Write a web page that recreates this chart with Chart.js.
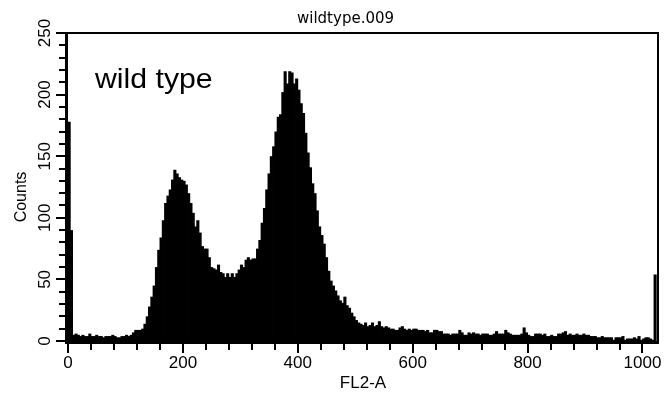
<!DOCTYPE html>
<html>
<head>
<meta charset="utf-8">
<script src="https://cdn.jsdelivr.net/npm/chart.js@4.4.1/dist/chart.umd.min.js"></script>
<style>
body{margin:0;background:#fff;}
canvas{display:block;}
</style>
</head>
<body>
<canvas id="histChart" width="667" height="397"></canvas>
<script>
// FL2-A histogram, 256 channels of width 4
let binWidth = 4;
let counts = [
    178, 90, 5, 6, 5, 4, 5, 4, 4, 6, 4, 4, 5, 4, 4, 3,
    4, 4, 4, 5, 4, 3, 3, 4, 4, 5, 4, 5, 7, 9, 9, 9,
    10, 14, 20, 28, 36, 45, 60, 74, 84, 98, 112, 118, 123, 131, 139, 136,
    133, 131, 130, 127, 120, 112, 104, 93, 98, 88, 77, 75, 75, 68, 60, 59,
    58, 62, 56, 55, 52, 55, 52, 55, 52, 55, 58, 62, 60, 66, 68, 66,
    67, 67, 75, 82, 96, 108, 123, 136, 150, 158, 170, 182, 184, 202, 219, 209,
    219, 218, 209, 213, 204, 193, 185, 169, 153, 141, 128, 120, 106, 93, 86, 79,
    68, 57, 49, 45, 41, 37, 33, 31, 36, 29, 27, 23, 20, 17, 15, 14,
    13, 15, 12, 13, 15, 12, 13, 16, 12, 11, 12, 11, 10, 10, 9, 9,
    11, 12, 10, 9, 10, 9, 10, 10, 9, 9, 9, 8, 9, 7, 7, 9,
    9, 8, 8, 6, 6, 6, 5, 6, 6, 6, 9, 7, 5, 5, 7, 6,
    7, 6, 6, 5, 6, 6, 6, 5, 5, 6, 8, 6, 6, 6, 9, 7,
    6, 5, 5, 5, 5, 6, 11, 7, 5, 4, 4, 6, 6, 6, 5, 6,
    4, 4, 5, 4, 4, 6, 6, 7, 8, 5, 6, 5, 5, 6, 5, 5,
    6, 5, 5, 4, 4, 4, 3, 3, 4, 3, 3, 3, 3, 1, 3, 3,
    3, 4, 1, 2, 2, 2, 3, 2, 4, 1, 2, 3, 3, 2, 1, 54
];
let xTicks = [0, 200, 400, 600, 800, 1000];
let yTicks = [0, 50, 100, 150, 200, 250];
let fileName = "wildtype.009";
let sampleLabel = "wild type";
let xTitle = "FL2-A";
let yTitle = "Counts";

let textFont = "'Liberation Sans', Arial, sans-serif";

// one bar per channel, centred in its bin
let points = counts.map((c, i) => ({x: i * binWidth + binWidth / 2, y: c}));

let axesPlugin = {
    id: "axesPlugin",
    afterDraw(chart){
        let ctx = chart.ctx;
        let xs = chart.scales.x;
        let ys = chart.scales.y;
        let a = chart.chartArea;

        ctx.save();
        ctx.strokeStyle = "#000";
        ctx.fillStyle = "#000";

        // frame: top and right thin, left and bottom heavier
        ctx.lineWidth = 2;
        ctx.beginPath();
        ctx.moveTo(a.left, a.top);
        ctx.lineTo(a.right, a.top);
        ctx.lineTo(a.right, a.bottom);
        ctx.stroke();

        ctx.lineWidth = 3;
        ctx.beginPath();
        ctx.moveTo(a.left - 1.5, a.top - 1);
        ctx.lineTo(a.left - 1.5, a.bottom + 1.5);
        ctx.lineTo(a.right + 1, a.bottom + 1.5);
        ctx.stroke();

        // ticks
        ctx.lineWidth = 2;
        ctx.beginPath();
        for(let v = 0; v <= 1000; v += 40){
            let px = Math.round(xs.getPixelForValue(v));
            let len = xTicks.includes(v) ? 9 : 6;
            ctx.moveTo(px, a.bottom + 3);
            ctx.lineTo(px, a.bottom + 3 + len);
        }
        for(let v = 0; v <= 250; v += 10){
            let py = Math.round(ys.getPixelForValue(v));
            let len = yTicks.includes(v) ? 9 : 6;
            ctx.moveTo(a.left - 3, py);
            ctx.lineTo(a.left - 3 - len, py);
        }
        ctx.stroke();

        // rotated y tick labels
        ctx.font = "17px " + textFont;
        ctx.textAlign = "center";
        ctx.textBaseline = "middle";
        yTicks.forEach(v => {
            ctx.save();
            ctx.translate(45, ys.getPixelForValue(v));
            ctx.rotate(-Math.PI / 2);
            ctx.fillText(String(v), 0, 0);
            ctx.restore();
        });

        // axis titles
        ctx.font = "16px " + textFont;
        ctx.save();
        ctx.translate(22, (a.top + a.bottom) / 2 + 10);
        ctx.rotate(-Math.PI / 2);
        ctx.fillText(yTitle, 0, 0);
        ctx.restore();
        ctx.font = "17px " + textFont;
        ctx.fillText(xTitle, (a.left + a.right) / 2, 383);

        // file name
        ctx.font = "15px 'DejaVu Sans', sans-serif";
        ctx.textAlign = "left";
        ctx.textBaseline = "alphabetic";
        ctx.fillText(fileName, 297, 23);

        // sample label
        ctx.save();
        ctx.translate(95, 88);
        ctx.scale(1.08, 1);
        ctx.font = "28px " + textFont;
        ctx.fillText(sampleLabel, 0, 0);
        ctx.restore();

        ctx.restore();
    }
};

let chart = new Chart(document.getElementById("histChart"), {
    type: "bar",
    data: {
        datasets: [{
            data: points,
            backgroundColor: "#000",
            borderWidth: 0,
            categoryPercentage: 1,
            barPercentage: 1.35
        }]
    },
    options: {
        responsive: false,
        animation: false,
        devicePixelRatio: 1,
        layout: {padding: {top: 33, right: 9, left: 0, bottom: 0}},
        plugins: {
            legend: {display: false},
            tooltip: {enabled: false}
        },
        scales: {
            x: {
                type: "linear",
                min: 0,
                max: 1027,
                offset: false,
                grid: {display: false, drawTicks: false},
                border: {display: false},
                afterBuildTicks: s => { s.ticks = xTicks.map(v => ({value: v})); },
                afterFit: s => {
                    s.height = 56;
                    s.paddingLeft = 0;
                    s.paddingRight = 0;
                },
                ticks: {
                    autoSkip: false,
                    maxRotation: 0,
                    padding: 12,
                    color: "#000",
                    font: {family: textFont, size: 17},
                    callback: v => String(v)
                }
            },
            y: {
                min: 0,
                max: 250,
                grid: {display: false, drawTicks: false},
                border: {display: false},
                ticks: {display: false},
                afterFit: s => { s.width = 68; }
            }
        }
    },
    plugins: [axesPlugin]
});
</script>
</body>
</html>
